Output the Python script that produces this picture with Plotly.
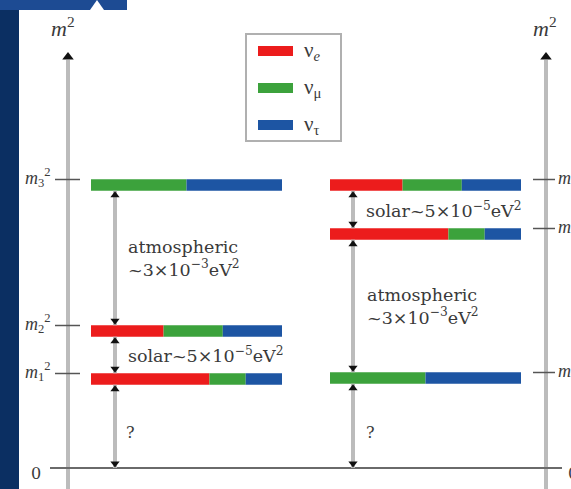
import plotly.graph_objects as go

# ---------------- data ----------------
# squared-mass levels (arbitrary units, 0 = massless)
levels_normal = [8.9, 13.7, 28.3]      # m1^2, m2^2, m3^2
labels_normal = ["1", "2", "3"]
levels_inverted = [9.0, 23.4, 28.3]    # m3^2, m1^2, m2^2
labels_inverted = ["3", "1", "2"]

# flavour content of each mass state (fractions)
nu_e_normal = [0.62, 0.38, 0.0]
nu_mu_normal = [0.19, 0.31, 0.50]
nu_tau_normal = [0.19, 0.31, 0.50]
nu_e_inverted = [0.0, 0.62, 0.38]
nu_mu_inverted = [0.50, 0.19, 0.31]
nu_tau_inverted = [0.50, 0.19, 0.31]

flavour_names = ["ν<sub><i>e</i></sub>", "ν<sub>μ</sub>", "ν<sub>τ</sub>"]
solar_text = "solar~5×10<sup>−5</sup>eV<sup>2</sup>"
atm_text = "atmospheric<br>~3×10<sup>−3</sup>eV<sup>2</sup>"

# ---------------- style ----------------
W, H = 571, 489
COLORS = ["#ec1c1c", "#3ca23c", "#1d55a3"]
FONT = "Liberation Serif, Times New Roman, serif"
FONT_WIDE = "DejaVu Serif, Liberation Serif, serif"
TXT = "#3a3a3a"
AXIS_GRAY = "#bcbcbc"
Y0_PX = 468          # pixel row of m^2 = 0
PX_PER_UNIT = 10.0
y_top = Y0_PX / PX_PER_UNIT
y_bot = -(H - Y0_PX) / PX_PER_UNIT
BAR_LEN = 191
LEFT_X0, RIGHT_X0 = 91, 330
ARROW_LEFT_X, ARROW_RIGHT_X = 115, 353
AXIS_LEFT_X, AXIS_RIGHT_X = 68, 546
BAR_T = 1.15
HALF = BAR_T / 2

fig = go.Figure()


def add_levels(levels, e, mu, tau, x0):
    starts = [x0] * len(levels)
    for fr, col in zip([e, mu, tau], COLORS):
        lengths = [f * BAR_LEN for f in fr]
        fig.add_trace(go.Bar(orientation="h", y=levels, x=lengths, base=starts,
                             width=BAR_T, marker=dict(color=col, line_width=0),
                             showlegend=False, hoverinfo="skip"))
        starts = [s + l for s, l in zip(starts, lengths)]


add_levels(levels_normal, nu_e_normal, nu_mu_normal, nu_tau_normal, LEFT_X0)
add_levels(levels_inverted, nu_e_inverted, nu_mu_inverted, nu_tau_inverted, RIGHT_X0)


def px2y(p):
    return (Y0_PX - p) / PX_PER_UNIT


# vertical m^2 axes (gray lines with black arrowheads)
for ax_x in [AXIS_LEFT_X, AXIS_RIGHT_X]:
    fig.add_trace(go.Scatter(x=[ax_x, ax_x], y=[px2y(60), y_bot], mode="lines",
                             line=dict(color=AXIS_GRAY, width=4),
                             showlegend=False, hoverinfo="skip"))
    fig.add_trace(go.Scatter(x=[ax_x], y=[px2y(57)], mode="markers",
                             marker=dict(symbol="triangle-up", size=10, color="#111"),
                             showlegend=False, hoverinfo="skip"))

# zero line
fig.add_trace(go.Scatter(x=[50, 562], y=[0, 0], mode="lines",
                         line=dict(color="#6a6a6a", width=2),
                         showlegend=False, hoverinfo="skip"))


def double_arrow(x, lo, hi, lo_is_bar=True):
    y_lo = lo + (HALF if lo_is_bar else 0)
    y_hi = hi - HALF
    fig.add_trace(go.Scatter(x=[x, x], y=[y_lo, y_hi], mode="lines",
                             line=dict(color=AXIS_GRAY, width=4),
                             showlegend=False, hoverinfo="skip"))
    fig.add_trace(go.Scatter(x=[x, x], y=[y_hi - 0.45, y_lo + 0.45], mode="markers",
                             marker=dict(symbol=["triangle-up", "triangle-down"], size=8,
                                         color="#111"),
                             showlegend=False, hoverinfo="skip"))


# normal hierarchy arrows
nl = sorted(levels_normal)
double_arrow(ARROW_LEFT_X, 0, nl[0], lo_is_bar=False)
double_arrow(ARROW_LEFT_X, nl[0], nl[1])
double_arrow(ARROW_LEFT_X, nl[1], nl[2])
# inverted hierarchy arrows
il = sorted(levels_inverted)
double_arrow(ARROW_RIGHT_X, 0, il[0], lo_is_bar=False)
double_arrow(ARROW_RIGHT_X, il[0], il[1])
double_arrow(ARROW_RIGHT_X, il[1], il[2])

annotations = []
shapes = []

# tick dashes + labels
TICK_OFF = 0.55
for lv, lab in zip(levels_normal, labels_normal):
    shapes.append(dict(type="line", xref="x", yref="y", x0=55, x1=80,
                       y0=lv + TICK_OFF, y1=lv + TICK_OFF,
                       line=dict(color="#555", width=1.5)))
    annotations.append(dict(x=53, y=lv + TICK_OFF + 0.2, xref="x", yref="y",
                            text=f"<i>m</i><sub>{lab}</sub><sup>2</sup>",
                            showarrow=False, xanchor="right", yanchor="middle",
                            font=dict(family=FONT, size=18, color=TXT)))
for lv, lab in zip(levels_inverted, labels_inverted):
    shapes.append(dict(type="line", xref="x", yref="y", x0=533, x1=555,
                       y0=lv + TICK_OFF, y1=lv + TICK_OFF,
                       line=dict(color="#555", width=1.5)))
    annotations.append(dict(x=556, y=lv + TICK_OFF + 0.2, xref="x", yref="y",
                            text=f"<i>m</i><sub>{lab}</sub><sup>2</sup>",
                            showarrow=False, xanchor="left", yanchor="middle",
                            font=dict(family=FONT, size=18, color=TXT)))

# zero labels
annotations.append(dict(x=36, y=-0.5, xref="x", yref="y", text="0", showarrow=False,
                        font=dict(family=FONT_WIDE, size=16, color=TXT)))
annotations.append(dict(x=566, y=-0.5, xref="x", yref="y", text="0", showarrow=False,
                        xanchor="left", font=dict(family=FONT_WIDE, size=16, color=TXT)))

# m^2 axis titles
for ax_x in [AXIS_LEFT_X - 5, AXIS_RIGHT_X - 1]:
    annotations.append(dict(x=ax_x, y=px2y(27), xref="x", yref="y",
                            text="<i>m</i><sup>2</sup>", showarrow=False,
                            font=dict(family=FONT, size=22, color=TXT)))

# splitting texts
TXT_SIZE = 17.5
annotations.append(dict(x=126, y=(nl[1] + nl[2]) / 2, xref="x", yref="y", text=atm_text,
                        showarrow=False, xanchor="left", align="left",
                        font=dict(family=FONT_WIDE, size=TXT_SIZE, color=TXT)))
annotations.append(dict(x=126, y=(nl[0] + nl[1]) / 2, xref="x", yref="y", text=solar_text,
                        showarrow=False, xanchor="left", align="left",
                        font=dict(family=FONT_WIDE, size=TXT_SIZE, color=TXT)))
annotations.append(dict(x=364, y=(il[1] + il[2]) / 2, xref="x", yref="y", text=solar_text,
                        showarrow=False, xanchor="left", align="left",
                        font=dict(family=FONT_WIDE, size=TXT_SIZE, color=TXT)))
annotations.append(dict(x=365, y=(il[0] + il[1]) / 2, xref="x", yref="y", text=atm_text,
                        showarrow=False, xanchor="left", align="left",
                        font=dict(family=FONT_WIDE, size=TXT_SIZE, color=TXT)))
for ax_x, low in [(ARROW_LEFT_X + 15, nl[0]), (ARROW_RIGHT_X + 17, il[0])]:
    annotations.append(dict(x=ax_x, y=low * 0.4, xref="x", yref="y", text="?",
                            showarrow=False, font=dict(family=FONT_WIDE, size=16, color=TXT)))

# legend box (manual, paper coords)
def px(xp):
    return xp / W


def py(yp):
    return 1 - yp / H


shapes.append(dict(type="rect", xref="paper", yref="paper", x0=px(246), x1=px(341),
                   y0=py(34), y1=py(141), line=dict(color="#b0b0b0", width=2),
                   fillcolor="white"))
for i, (col, name) in enumerate(zip(COLORS, flavour_names)):
    yc = 51 + i * 37
    shapes.append(dict(type="rect", xref="paper", yref="paper", x0=px(258), x1=px(293),
                       y0=py(yc + 5), y1=py(yc - 5), fillcolor=col, line_width=0))
    annotations.append(dict(x=px(302), y=py(yc), xref="paper", yref="paper", text=name,
                            showarrow=False, xanchor="left", yanchor="middle",
                            font=dict(family=FONT, size=21, color=TXT)))

# slide decorations (blue frame)
shapes.append(dict(type="rect", xref="paper", yref="paper", x0=0, x1=px(19), y0=0, y1=1,
                   fillcolor="#0b2f62", line_width=0, layer="below"))
shapes.append(dict(type="rect", xref="paper", yref="paper", x0=0, x1=px(127), y0=py(10),
                   y1=1, fillcolor="#1d4b93", line_width=0, layer="below"))
shapes.append(dict(type="path", xref="paper", yref="paper",
                   path=f"M {px(90)},{py(10)} L {px(97)},{py(0)} L {px(104)},{py(10)} Z",
                   fillcolor="white", line_width=0))

fig.update_layout(
    width=W, height=H, margin=dict(l=0, r=0, t=0, b=0),
    paper_bgcolor="white", plot_bgcolor="white", barmode="overlay",
    xaxis=dict(range=[0, W], visible=False, fixedrange=True),
    yaxis=dict(range=[y_bot, y_top], visible=False, fixedrange=True),
    shapes=shapes, annotations=annotations, showlegend=False,
)
fig.write_html("out.html")
